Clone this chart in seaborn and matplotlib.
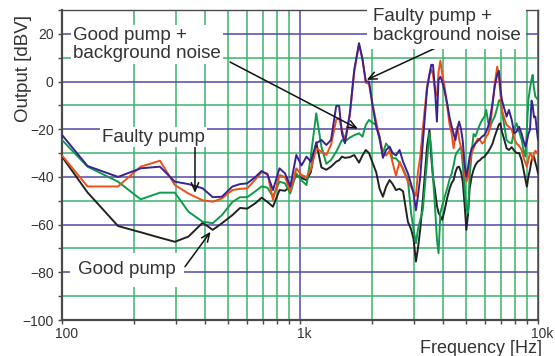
import numpy as np
import pandas as pd
import matplotlib
matplotlib.use("Agg")
import matplotlib.pyplot as plt
import matplotlib.transforms as mtransforms
from matplotlib.ticker import MultipleLocator, LogLocator, NullFormatter
import seaborn as sns

# ---------------- data ----------------
freq_hz = [100, 128, 172, 214, 258, 298, 340, 390, 430, 470,
           520, 560, 600, 650, 690, 730, 770, 820, 865, 910,
           965, 1015, 1065, 1110, 1170, 1230, 1290, 1350, 1420, 1460,
           1500, 1545, 1620, 1690, 1770, 1830, 1890, 1950, 2010, 2090,
           2160, 2230, 2300, 2380, 2450, 2530, 2620, 2710, 2840, 2930,
           3000, 3070, 3130, 3200, 3280, 3340, 3420, 3500, 3560, 3620,
           3690, 3760, 3820, 3890, 3960, 4050, 4150, 4250, 4340, 4420,
           4500, 4580, 4660, 4750, 4830, 4920, 5000, 5080, 5160, 5260,
           5360, 5460, 5580, 5700, 5830, 5960, 6060, 6170, 6300, 6440,
           6580, 6740, 6850, 6950, 7050, 7200, 7380, 7550, 7750, 7950,
           8130, 8330, 8540, 8700, 8850, 8980, 9110, 9250, 9400, 9500,
           9620, 9750, 9880, 10000]

faulty_noise_dbv = [-22.4, -35.4, -40, -36.4, -35.7, -42, -43, -44.8, -48.5, -48.3,
                    -44, -43, -42.7, -40, -37.5, -39, -45.5, -36.4, -38.5, -44,
                    -30.8, -35.2, -31.5, -33.6, -25.9, -24.5, -26.6, -24.5, -10.2, -10.2,
                    -21.7, -25.9, -13.3, 4.9, 16.1, 9.1, 0, 0, -9.1, -18.9,
                    -23.5, -32, -28.7, -27.3, -30, -31, -28.7, -33.6, -38.5, -43,
                    -47, -54, -48, -40, -26, -16, -3, 3, 7, 7,
                    -3, -16.8, 0.7, 2, 0, -4, -9, -15, -18.9, -22,
                    -24.5, -20, -16.8, -20, -25, -35, -39.9, -36, -31.5, -28,
                    -27, -25.9, -25, -24, -23, -22.4, -21, -19, -15, -9,
                    -2, 3, 4.5, -3, -7.7, -11, -14.7, -11.9, -16, -21.7,
                    -21, -19, -22, -25, -27.3, -25, -22, -20.3, -8, -10,
                    -15, -14.7, -20, -24.5]

faulty_dbv = [-31, -44, -44, -35.7, -33.2, -43.4, -47, -49.8, -50.4, -49,
              -45.5, -45, -44.8, -41, -38, -38.6, -49.7, -39.2, -40, -46,
              -36.4, -39.2, -40, -37, -28, -29.4, -30.8, -26.5, -16, -15.4,
              -20.3, -24.5, -14, 4, 15.5, 10, -0.5, -1, -8.5, -17,
              -23.1, -30, -31, -29, -34, -39.5, -33.6, -37, -42, -44.1,
              -46, -48, -38, -31.5, -20, -12, -2, 3, 5, 3,
              -4, -6, 4, 8.8, 3, -2.1, -10, -18, -22, -28,
              -22, -19, -24, -28, -30, -38, -42, -40, -33.6, -30,
              -28, -26, -24, -24.5, -26, -25, -23, -22, -19, -10,
              -1, 6.3, 2, -5, -12, -15, -18.2, -19, -20, -24,
              -26, -27, -28.7, -32, -34, -35.7, -33, -30, -31, -33,
              -30, -29, -30, -29]

good_noise_dbv = [-24.5, -35.7, -42, -49.4, -46.6, -46.6, -54.6, -58.8, -59.4, -56,
                  -50.5, -48.5, -48.5, -46, -44, -44.5, -48.3, -42, -42.7, -46.9,
                  -38.5, -41.5, -43.4, -31.5, -13.3, -27.3, -34.5, -32.9, -29.4, -27,
                  -24.5, -25.2, -23.5, -22.5, -21.7, -23.1, -18.2, -16.1, -17.2, -18.2,
                  -24.5, -30, -26, -28, -32.2, -32.2, -34, -36.5, -41.3, -55.2,
                  -62, -67.8, -62, -58, -53.9, -45, -33, -21.7, -28, -40,
                  -52, -66, -72, -55, -52, -48.5, -45, -41, -38.5, -35,
                  -31, -29.5, -28.5, -27.3, -35, -45, -53, -55, -40, -30,
                  -22, -23, -20.3, -18, -16, -14.7, -11.9, -17, -18.9, -16.5,
                  -14.7, -11, -8, -7.7, -12, -18, -24.5, -25.5, -25.9, -20,
                  -17.5, -21, -24.5, -29, -31.5, -20, -7.7, -3, 1, 2.8,
                  -3, -6.3, -7, -7.7]

good_dbv = [-31.5, -46.5, -60.6, -63.2, -65.5, -67.2, -65, -59.2, -62.2, -59.4,
            -56, -53, -53.3, -51, -48.7, -50.5, -52.5, -45.5, -45.8, -44,
            -39.2, -40.5, -41.3, -38, -25.5, -36, -37, -35.7, -33.6, -33,
            -31.5, -32, -31.7, -30.8, -34, -31, -28.7, -30, -33.6, -38,
            -45, -48.3, -44.1, -41.3, -43, -45.5, -45, -46, -58.8, -62,
            -66, -75.5, -70, -62, -50, -40, -27, -20.3, -31.5, -40,
            -45.5, -52, -55, -56.5, -58, -54, -49, -45, -42.5, -41.3,
            -38, -36, -35.7, -38, -42, -52, -62.2, -56, -45, -40,
            -37, -35, -33.6, -33, -32, -31.5, -30.5, -29.5, -28, -26,
            -23, -20, -18, -17.5, -21, -24, -28, -28.7, -27.5, -29,
            -30, -30, -33, -37.1, -41, -44.1, -40, -37, -33, -32,
            -31.5, -34, -36, -38.5]

series_names = ["Good pump", "Good pump + background noise",
                "Faulty pump", "Faulty pump + background noise"]
series_values = [good_dbv, good_noise_dbv, faulty_dbv, faulty_noise_dbv]
x_tick_values = [100, 1000, 10000]
x_tick_labels = ["100", "1k", "10k"]

# ---------------- style ----------------
colors = {"Good pump": "#222222",
          "Good pump + background noise": "#0f9a4c",
          "Faulty pump": "#ee5018",
          "Faulty pump + background noise": "#3a2290"}
grid_major = "#5548a6"
grid_minor = "#3db36c"
spine_col = "#4a4a4a"
text_col = "#333333"

sns.set_theme(style="white")
plt.rcParams["font.family"] = ["Liberation Sans", "DejaVu Sans"]

df = pd.concat([pd.DataFrame({"Frequency": freq_hz, "Output": vals, "Series": name})
                for name, vals in zip(series_names, series_values)],
               ignore_index=True)

W, H = 555, 356
fig = plt.figure(figsize=(W / 100, H / 100), dpi=100)
ax = fig.add_axes([62 / W, 36 / H, 476 / W, 310 / H])

sns.lineplot(data=df, x="Frequency", y="Output", hue="Series",
             hue_order=series_names, palette=colors, estimator=None,
             sort=False, linewidth=1.4, legend=False, ax=ax, zorder=3)

ax.set_xscale("log")
ax.set_xlim(100, 10000)
ax.set_ylim(-100, 30)

ax.yaxis.set_major_locator(MultipleLocator(20))
ax.yaxis.set_minor_locator(MultipleLocator(10))
ax.set_xticks(x_tick_values, x_tick_labels)
ax.xaxis.set_minor_locator(LogLocator(base=10, subs=np.arange(2, 10)))
ax.xaxis.set_minor_formatter(NullFormatter())

ax.set_axisbelow(True)
ax.grid(which="major", color=grid_major, linewidth=1.1)
ax.grid(which="minor", color=grid_minor, linewidth=1.1)

ax.tick_params(axis="both", which="both", direction="out", length=3, width=1,
               color=spine_col, labelsize=10, labelcolor=text_col,
               bottom=True, left=True, pad=3)
ax.tick_params(axis="x", which="both", pad=2)
for lbl in ax.get_xticklabels():
    lbl.set_transform(lbl.get_transform() +
                      mtransforms.ScaledTranslation(4.5 / 100, 0, fig.dpi_scale_trans))

for side, sp in ax.spines.items():
    sp.set_visible(True)
    sp.set_color(spine_col)
    sp.set_linewidth(1.6 if side in ("left", "bottom") else 1.0)

ax.set_ylabel("Output [dBV]", fontsize=13.5, color=text_col)
ax.yaxis.set_label_coords(-0.063, 0.81)
ax.set_xlabel("Frequency [Hz]", fontsize=13, color=text_col)
ax.xaxis.set_label_coords((542 - 62) / 476, (320 - 340) / 310)
ax.xaxis.label.set_ha("right")

# ---------------- annotations ----------------
def fig_text(x_img, y_img, s, pad):
    return fig.text(x_img / W, 1 - y_img / H, s, ha="left", va="center",
                    fontsize=13.5, color=text_col, linespacing=1.1, zorder=10,
                    bbox=dict(boxstyle=f"square,pad={pad}", fc="white", ec="none"))

def arrow(x_img, y_img, target):
    ax.annotate("", xy=target, xycoords="data",
                xytext=(x_img, H - y_img), textcoords="figure pixels",
                arrowprops=dict(arrowstyle="->,head_length=0.5,head_width=0.22",
                                color="#111111", lw=1.1, shrinkA=0, shrinkB=0),
                annotation_clip=False, zorder=11)

fig_text(73, 44.5, "Good pump +\nbackground noise", 0.12)
arrow(230, 62, (1750, -19.8))

fig_text(373, 26, "Faulty pump +\nbackground noise", 0.3)
arrow(440, 46, (1906, 0.7))

fig_text(102, 137, "Faulty pump", 0.1)
arrow(195, 146, (362, -46.7))

fig_text(78, 270, "Good pump", 0.45)
arrow(185, 266.7, (421, -63.0))

fig.savefig("out.png", dpi=100, facecolor="white")
